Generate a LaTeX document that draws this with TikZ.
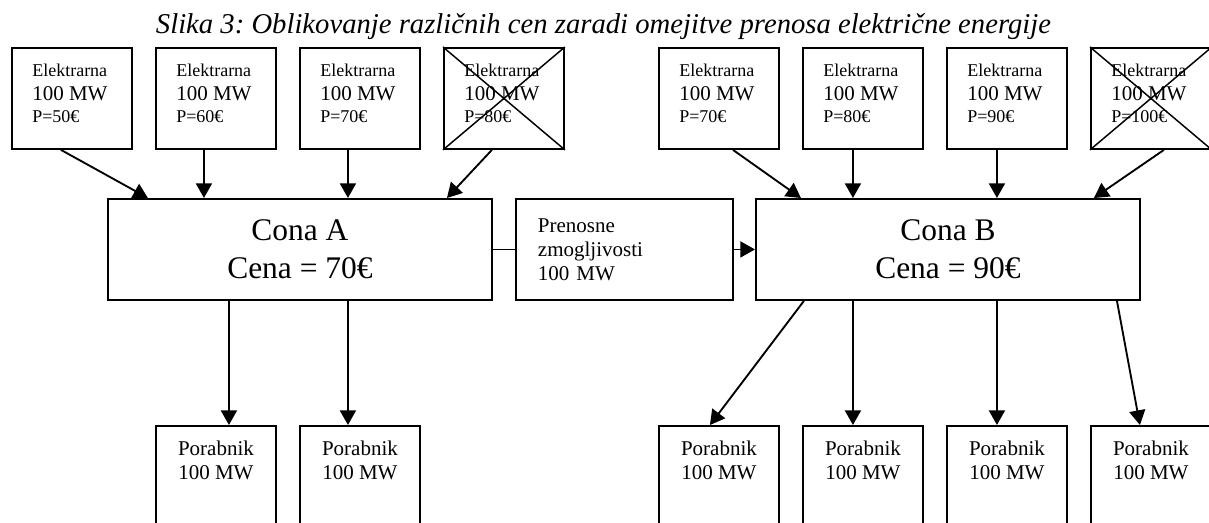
\documentclass[tikz,border=0pt]{standalone}
\usepackage{fontspec}
\setmainfont{Liberation Serif}
\usetikzlibrary{arrows.meta,calc}
\frenchspacing

\tikzset{
    elbox/.style={draw, line width=1.4pt, anchor=north west, minimum width=90pt, minimum height=75.75pt, inner sep=0pt},
    eltext/.style={anchor=north west, inner sep=0pt, align=left, font=\fontsize{13.5pt}{18pt}\selectfont},
    zone/.style={draw, line width=1.4pt, anchor=north west, minimum width=288pt, minimum height=75.75pt, inner sep=0pt, align=center, font=\fontsize{23.6pt}{28.5pt}\selectfont},
    trbox/.style={draw, line width=1.4pt, anchor=north west, minimum width=162.75pt, minimum height=75.75pt, inner sep=0pt, text width=129.75pt, align=left, font=\fontsize{15.75pt}{18pt}\selectfont},
    porbox/.style={draw, line width=1.4pt, anchor=north west, minimum width=90pt, minimum height=112.5pt, inner sep=0pt},
    portext/.style={anchor=north, inner sep=0pt, align=center, font=\fontsize{15.75pt}{18pt}\selectfont},
    arr/.style={line width=1.4pt, -{Triangle[length=11pt, width=12pt]}},
    link/.style={line width=1.4pt},
    cross/.style={line width=1.1pt}
}

\begin{document}
\begin{tikzpicture}[x=0.75pt, y=-0.75pt]
    \useasboundingbox (0,0) rectangle (1209,522);
    \clip (0,0) rectangle (1209,522);

    % Title
    \node[anchor=base, inner sep=0pt, font=\fontsize{21.5pt}{26pt}\selectfont\itshape] (title) at (603.5,33)
        {Slika 3: Oblikovanje različnih cen zaradi omejitve prenosa električne energije};

    % Power plants
    \foreach \i/\x/\p in {1/11/50, 2/155/60, 3/299/70, 4/443/80, 5/658/70, 6/802/80, 7/946/90, 8/1090/100} {
        \node[elbox] (e\i) at (\x,47) {};
        \node[eltext] (et\i) at ($(e\i.north west)+(21,16.7)$)
            {Elektrarna\\{\fontsize{15.75pt}{18pt}\selectfont 100 MW}\\[-1.5pt]P=\p{}€};
    }
    \draw[cross] (e4.north west) -- (e4.south east) (e4.north east) -- (e4.south west);
    \draw[cross] (e8.north west) -- (e8.south east) (e8.north east) -- (e8.south west);

    % Zones and transfer capacity
    \node[zone] (conaA) at (107,198) {Cona A\\Cena = 70€};
    \node[trbox] (tr) at (515,198) {Prenosne\\zmogljivosti\\100 MW};
    \node[zone] (conaB) at (755,198) {Cona B\\Cena = 90€};

    \draw[link] (conaA.east) -- (tr.west);
    \draw[arr] (tr.east) -- (conaB.west);

    % Consumers
    \foreach \i/\x in {1/155, 2/299, 3/658, 4/802, 5/946, 6/1090} {
        \node[porbox] (p\i) at (\x,425) {};
        \node[portext] (pt\i) at ($(p\i.north)+(0,15.7)$) {Porabnik\\100 MW};
    }

    % Plants to zones
    \draw[arr] ($(e1.south)+(-11,0)$) -- ($(conaA.north)+(-152,0)$);
    \draw[arr] ($(e2.south)+(-12,0)$) -- ($(conaA.north)+(-96,0)$);
    \draw[arr] ($(e3.south)+(-12,0)$) -- ($(conaA.north)+(48,0)$);
    \draw[arr] ($(e4.south)+(-12,0)$) -- ($(conaA.north)+(147,0)$);
    \draw[arr] ($(e5.south)+(14,0)$) -- ($(conaB.north)+(-147,0)$);
    \draw[arr] ($(e6.south)+(-10,0)$) -- ($(conaB.north)+(-95,0)$);
    \draw[arr] ($(e7.south)+(-10,0)$) -- ($(conaB.north)+(49,0)$);
    \draw[arr] ($(e8.south)+(13,0)$) -- ($(conaB.north)+(146,0)$);

    % Zones to consumers
    \draw[arr] ($(conaA.south)+(-71,0)$) -- ($(p1.north)+(13,0)$);
    \draw[arr] ($(conaA.south)+(48,0)$) -- ($(p2.north)+(-12,0)$);
    \draw[arr] ($(conaB.south)+(-144,0)$) -- ($(p3.north)+(-9,0)$);
    \draw[arr] ($(conaB.south)+(-95,0)$) -- ($(p4.north)+(-10,0)$);
    \draw[arr] ($(conaB.south)+(49,0)$) -- ($(p5.north)+(-10,0)$);
    \draw[arr] ($(conaB.south)+(169,0)$) -- ($(p6.north)+(-11,0)$);
\end{tikzpicture}
\end{document}
